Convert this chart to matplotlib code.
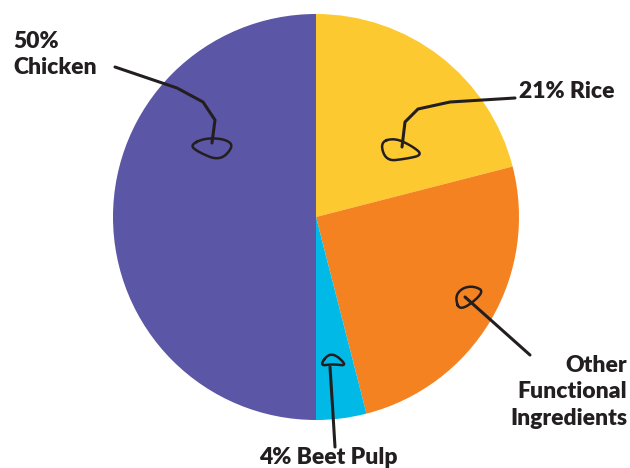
import numpy as np
import matplotlib.pyplot as plt

# slice shares, clockwise from 12 o'clock
labels = ["21% Rice", "Other\nFunctional\nIngredients", "4% Beet Pulp", "50%\nChicken"]
shares = [21, 25, 4, 50]
colors = ["#fdc931", "#f58220", "#00b9e6", "#5b56a5"]

W, H = 630, 468
fig = plt.figure(figsize=(W / 100, H / 100), dpi=100)
ax = fig.add_axes([0, 0, 1, 1])

ax.pie(shares, colors=colors, startangle=90, counterclock=False,
       center=(316, H - 217), radius=203, frame=True,
       wedgeprops=dict(linewidth=0))
ax.set_xlim(0, W)
ax.set_ylim(0, H)
ax.axis("off")

ink = "#231f20"
font = dict(family="Lato", weight="heavy", size=16.5, color=ink)


def px(points):
    p = np.array(points, dtype=float)
    return p[:, 0], H - p[:, 1]


def smooth_loop(points, n=3):
    # chaikin corner cutting so the loops look hand drawn
    p = np.array(points, dtype=float)
    for _ in range(n):
        q = np.roll(p, -1, axis=0)
        p = np.column_stack([0.75 * p + 0.25 * q, 0.25 * p + 0.75 * q]).reshape(-1, 2)
    return np.vstack([p, p[:1]])


def scribble(line, loop):
    x, y = px(line)
    ax.plot(x, y, color=ink, lw=2.2, solid_capstyle="round", solid_joinstyle="round")
    x, y = px(smooth_loop(loop))
    ax.plot(x, y, color=ink, lw=1.8, solid_joinstyle="round")


# hand-drawn pointers
scribble([(115, 67), (177, 88), (203, 102), (215, 120), (212, 143)],
         [(190, 145), (205, 138), (225, 139), (234, 146), (220, 161), (198, 152)])
scribble([(515, 98), (450, 102), (418, 109), (405, 122), (402, 147)],
         [(380, 142), (395, 138), (412, 146), (423, 155), (405, 159), (386, 161)])
scribble([(530, 355), (465, 297)],
         [(460, 312), (455, 297), (462, 288), (474, 286), (485, 292)])
scribble([(335, 447), (332, 398), (330, 367)],
         [(319, 366), (331, 351), (348, 366), (333, 364)])

ax.text(13, H - 31, labels[3], ha="left", va="top", linespacing=1.3, **font)
ax.text(519, H - 91, labels[0], ha="left", va="center", **font)
ax.text(627, H - 392, labels[1], ha="right", va="center", linespacing=1.3,
        multialignment="right", **font)
ax.text(328, H - 457, labels[2], ha="center", va="center", **font)

fig.savefig("out.png", dpi=100)
